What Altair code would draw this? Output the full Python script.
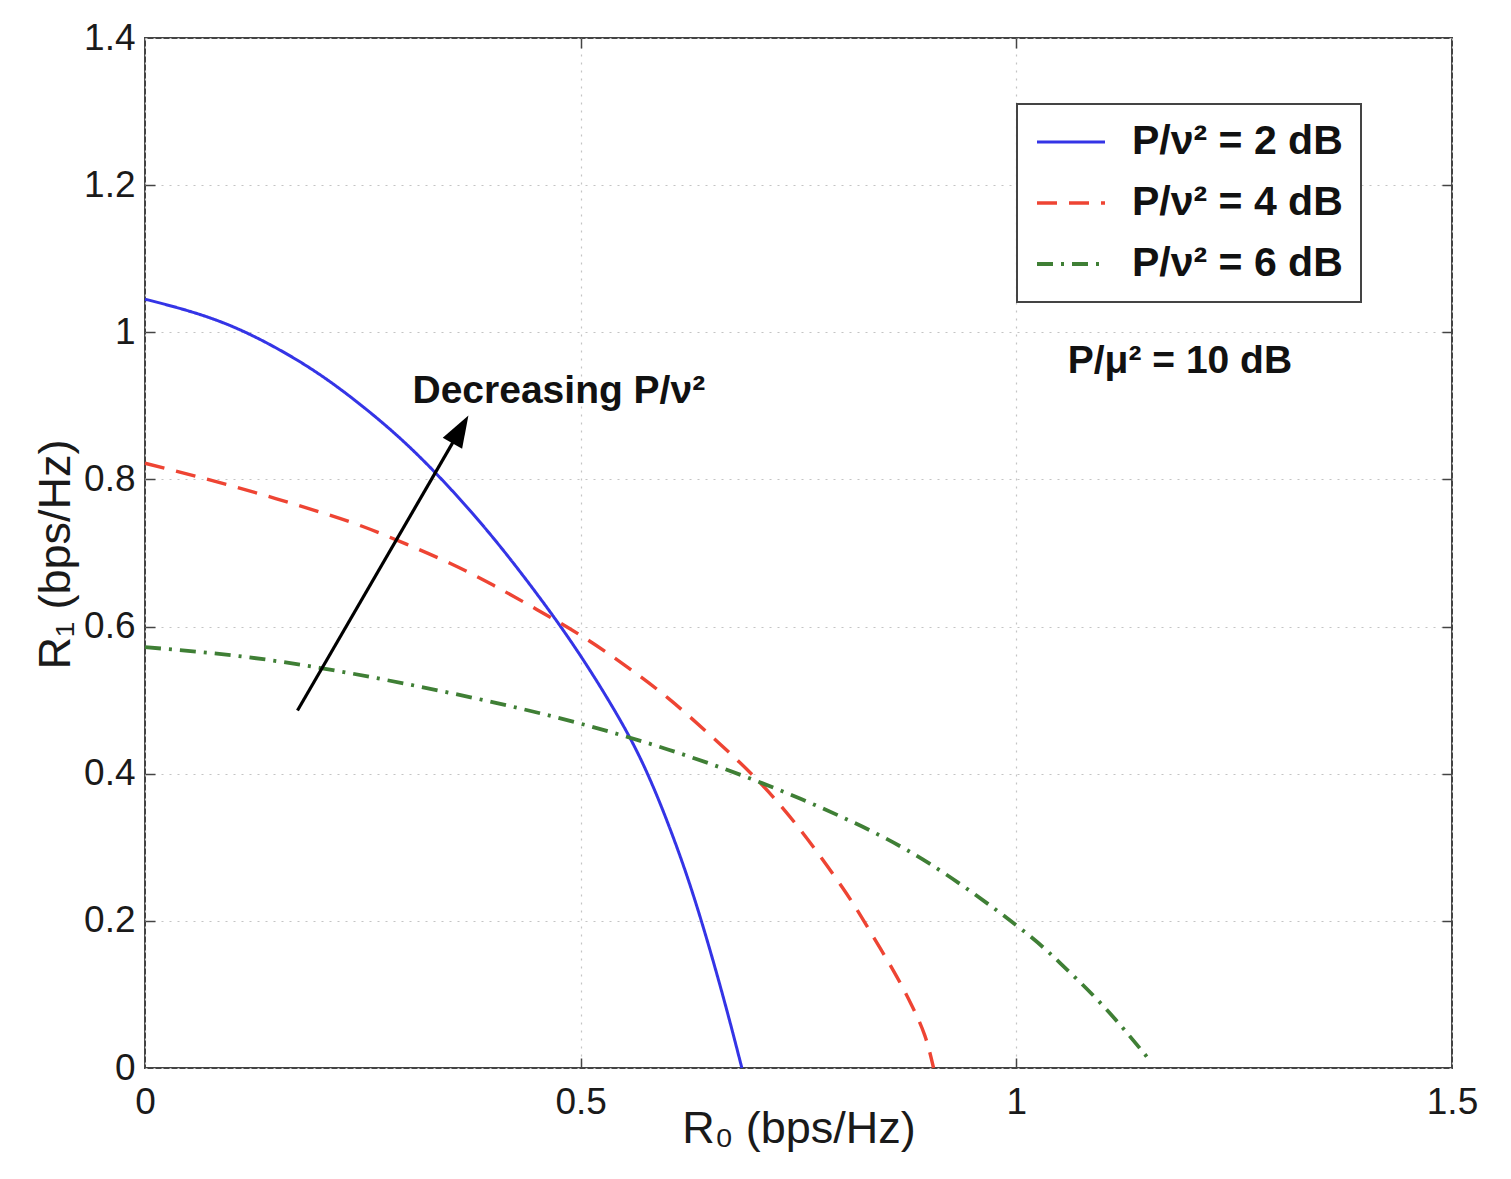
import altair as alt
import pandas as pd

# ---------------- data ----------------
series_labels = ["P/ν² = 2 dB", "P/ν² = 4 dB", "P/ν² = 6 dB"]
series_colors = ["#3434e6", "#ee4433", "#3f7f35"]
series_dashes = [[1, 0], [20, 12], [16, 8, 3, 8]]

blue_x = [0.0, 0.05, 0.1, 0.15, 0.2, 0.25, 0.3, 0.35, 0.4, 0.45, 0.5, 0.55,
          0.58, 0.6, 0.62, 0.64, 0.66, 0.675, 0.685]
blue_y = [1.045, 1.029, 1.008, 0.979, 0.943, 0.899, 0.848, 0.788, 0.720, 0.644,
          0.560, 0.463, 0.391, 0.333, 0.268, 0.194, 0.112, 0.046, 0.0]

red_x = [0.0, 0.05, 0.1, 0.15, 0.2, 0.25, 0.3, 0.35, 0.4, 0.45, 0.5, 0.55, 0.6,
         0.65, 0.7, 0.75, 0.8, 0.83, 0.86, 0.88, 0.895, 0.905]
red_y = [0.822, 0.807, 0.791, 0.774, 0.756, 0.736, 0.712, 0.686, 0.656, 0.623,
         0.588, 0.548, 0.503, 0.451, 0.395, 0.327, 0.246, 0.190, 0.130, 0.085,
         0.044, 0.0]

green_x = [0.0, 0.1, 0.2, 0.3, 0.4, 0.5, 0.6, 0.7, 0.8, 0.9, 1.0, 1.05, 1.1,
           1.15]
green_y = [0.572, 0.561, 0.544, 0.522, 0.497, 0.468, 0.433, 0.391, 0.341, 0.278,
           0.194, 0.143, 0.084, 0.015]

x_ticks = [0, 0.5, 1, 1.5]
y_ticks = [0, 0.2, 0.4, 0.6, 0.8, 1.0, 1.2, 1.4]
x_inner_ticks = [0.5, 1]
y_inner_ticks = [0.2, 0.4, 0.6, 0.8, 1.0, 1.2]

# arrow (tail -> head) and annotation texts
arrow_tail = (0.175, 0.486)
arrow_head = (0.362, 0.868)
note_labels = ["Decreasing P/ν²", "P/μ² = 10 dB"]
note_x = [0.307, 1.059]
note_y = [0.904, 0.945]

# ---------------- tables ----------------
rows = []
for lab, xs, ys in zip(series_labels, [blue_x, red_x, green_x], [blue_y, red_y, green_y]):
    for i, (a, b) in enumerate(zip(xs, ys)):
        rows.append({"series": lab, "r0": a, "r1": b, "order": i})
curves = pd.DataFrame(rows)

arrow_df = pd.DataFrame({"x": [arrow_tail[0]], "y": [arrow_tail[1]],
                         "x2": [arrow_head[0]], "y2": [arrow_head[1]]})
notes_df = pd.DataFrame({"label": note_labels, "x": note_x, "y": note_y})

FONT = "Liberation Sans"
x_scale = alt.Scale(domain=[0, 1.5], nice=False, zero=False)
y_scale = alt.Scale(domain=[0, 1.4], nice=False, zero=False)

legend_kw = dict(title=None, orient="none", legendX=872, legendY=66)

lines = alt.Chart(curves).mark_line(interpolate="natural").encode(
    x=alt.X("r0:Q", scale=x_scale,
            axis=alt.Axis(orient="bottom", values=x_ticks, format="~g",
                          title="R₀ (bps/Hz)", grid=True, ticks=False, domain=False,
                          labelFontSize=37, labelPadding=16, labelFont=FONT,
                          labelColor="#1a1a1a", titleFont=FONT, titleFontSize=45,
                          titleFontWeight="normal", titleColor="#1a1a1a",
                          titleBaseline="alphabetic", titleY=74,
                          gridDash=[2, 6], gridColor="#c4c4c4", gridWidth=1.2,
                          labelFlush=False)),
    y=alt.Y("r1:Q", scale=y_scale,
            axis=alt.Axis(orient="left", values=y_ticks, format="~g",
                          title="R₁ (bps/Hz)", grid=True, ticks=False, domain=False,
                          labelFontSize=37, labelPadding=10, labelFont=FONT,
                          labelColor="#1a1a1a", titleFont=FONT, titleFontSize=45,
                          titleFontWeight="normal", titleColor="#1a1a1a",
                          titleBaseline="alphabetic", titleX=-76, titleY=516,
                          titleAngle=270,
                          gridDash=[2, 6], gridColor="#c4c4c4", gridWidth=1.2,
                          labelFlush=False)),
    color=alt.Color("series:N", scale=alt.Scale(domain=series_labels, range=series_colors),
                    legend=alt.Legend(**legend_kw)),
    strokeDash=alt.StrokeDash("series:N", scale=alt.Scale(domain=series_labels, range=series_dashes),
                              legend=alt.Legend(**legend_kw)),
    strokeWidth=alt.StrokeWidth("series:N", scale=alt.Scale(domain=series_labels, range=[3.0, 3.8, 3.2]),
                                legend=None),
    order="order:Q",
)

tick_axis = dict(labels=False, title=None, grid=False, domain=False, ticks=True,
                 tickSize=10, tickColor="#444444", tickWidth=1.5, offset=-10)

arrow_line = alt.Chart(arrow_df).mark_rule(color="black", strokeWidth=3.2).encode(
    x=alt.X("x:Q", scale=x_scale, axis=alt.Axis(orient="bottom", values=x_inner_ticks, **tick_axis)),
    y=alt.Y("y:Q", scale=y_scale, axis=alt.Axis(orient="left", values=y_inner_ticks, **tick_axis)),
    x2="x2:Q",
    y2="y2:Q",
)

arrow_tip = alt.Chart(arrow_df).mark_point(
    shape="M0,-1L0.7,1L-0.7,1Z", size=1024, angle=30, filled=True,
    color="black", opacity=1, strokeWidth=0,
).encode(
    x=alt.X("x2:Q", scale=x_scale, axis=alt.Axis(orient="top", values=x_inner_ticks, **tick_axis)),
    y=alt.Y("y2:Q", scale=y_scale, axis=alt.Axis(orient="right", values=y_inner_ticks, **tick_axis)),
)

notes = alt.Chart(notes_df).mark_text(
    align="left", baseline="alphabetic", font=FONT, fontSize=39,
    fontWeight="bold", color="#111111",
).encode(
    x=alt.X("x:Q", scale=x_scale, axis=None),
    y=alt.Y("y:Q", scale=y_scale, axis=None),
    text="label:N",
)

chart = alt.layer(lines, arrow_line, arrow_tip, notes).resolve_scale(
    x="shared", y="shared"
).resolve_axis(
    x="independent", y="independent"
).properties(
    width=1307, height=1030,
    autosize=alt.AutoSizeParams(type="none"),
    padding={"left": 137, "top": 30, "right": 50, "bottom": 110},
    background="white",
).configure_view(
    stroke="#444444", strokeWidth=2,
).configure_legend(
    fillColor="white", strokeColor="#444444", strokeWidth=2,
    padding=18, rowPadding=20, clipHeight=40,
    symbolType="stroke", symbolSize=4624,
    symbolStrokeWidth=3.5, labelFont=FONT, labelFontSize=41,
    labelFontWeight="bold", labelColor="#111111", labelOffset=25,
    labelLimit=400,
)

chart.save("out.html", embed_options={"renderer": "svg", "actions": False})
